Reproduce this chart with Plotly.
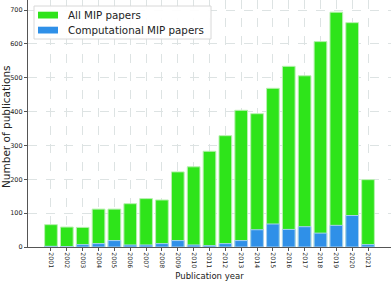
import plotly.graph_objects as go

years = list(range(2001, 2022))
all_mip = [66, 59, 58, 112, 112, 128, 143, 139, 222, 237, 283, 329, 404, 394, 469, 534, 506, 607, 694, 663, 199]
comp_mip = [2, 1, 7, 10, 19, 6, 6, 10, 19, 6, 4, 10, 19, 51, 68, 52, 60, 41, 64, 93, 7]
y_ticks = [0, 100, 200, 300, 400, 500, 600, 700]
series_names = ["All MIP papers", "Computational MIP papers"]
series_colors = ["#2ee41a", "#2f90e8"]
edge_colors = ["#b8f0b0", "#a8d0f0"]

fig = go.Figure()
for vals, name, col, edge in zip([all_mip, comp_mip], series_names, series_colors, edge_colors):
    fig.add_trace(go.Bar(x=years, y=vals, name=name, width=0.8, showlegend=False,
                         marker=dict(color=col, line=dict(color=edge, width=1))))

# custom legend (matplotlib-style) in paper coordinates
PW, PH, L = 363.0, 247.0, 28.0
def px_x(p):
    return (p - L) / PW
def px_y(p):
    return 1 - p / PH

shapes = [dict(type="rect", xref="paper", yref="paper",
               x0=px_x(34), x1=px_x(211), y0=px_y(39), y1=px_y(6),
               fillcolor="rgba(255,255,255,0.92)", line=dict(color="#d8d8d8", width=1),
               layer="above")]
annotations = []
for i, (name, col) in enumerate(zip(series_names, series_colors)):
    top = 11.7 + i * 15
    shapes.append(dict(type="rect", xref="paper", yref="paper",
                       x0=px_x(38), x1=px_x(58), y0=px_y(top + 6.8), y1=px_y(top),
                       fillcolor=col, line=dict(width=0), layer="above"))
    annotations.append(dict(xref="paper", yref="paper", x=px_x(66), y=px_y(top + 3.4),
                            xanchor="left", yanchor="middle", showarrow=False, text=name,
                            font=dict(size=10.3, family="DejaVu Sans", color="#222")))
annotations.append(dict(xref="paper", yref="paper", x=px_x(6), y=px_y(127),
                        xanchor="center", yanchor="middle", showarrow=False, textangle=-90,
                        text="Number of publications",
                        font=dict(size=10.5, family="DejaVu Sans", color="#222")))

fig.update_layout(
    barmode="overlay",
    width=392, height=285,
    margin=dict(l=28, r=1, t=0, b=38),
    plot_bgcolor="white", paper_bgcolor="white",
    font=dict(family="DejaVu Sans", size=8, color="#222"),
    showlegend=False,
    shapes=shapes,
    annotations=annotations,
    xaxis=dict(range=[1999.55, 2022.45], tickmode="array", tickvals=years,
               ticktext=[str(y) for y in years], tickangle=90,
               showline=True, linecolor="#555", linewidth=1.2,
               ticks="outside", ticklen=3, tickcolor="#555",
               showgrid=True, gridcolor="#dde3e3", griddash="dash", gridwidth=1,
               automargin=False,
               title=dict(text="Publication year", font=dict(size=8.5), standoff=5),
               tickfont=dict(size=6.2)),
    yaxis=dict(range=[0, 730], tickmode="array", tickvals=y_ticks,
               showline=True, linecolor="#555", linewidth=1.2,
               ticks="outside", ticklen=3, tickcolor="#555",
               showgrid=True, gridcolor="#dde3e3", griddash="dash", gridwidth=1,
               zeroline=False, automargin=False,
               tickfont=dict(size=6.5)),
)
fig.write_html("out.html", config={"displayModeBar": False},
               post_script="document.body.style.margin='0';document.body.style.overflow='hidden';")
